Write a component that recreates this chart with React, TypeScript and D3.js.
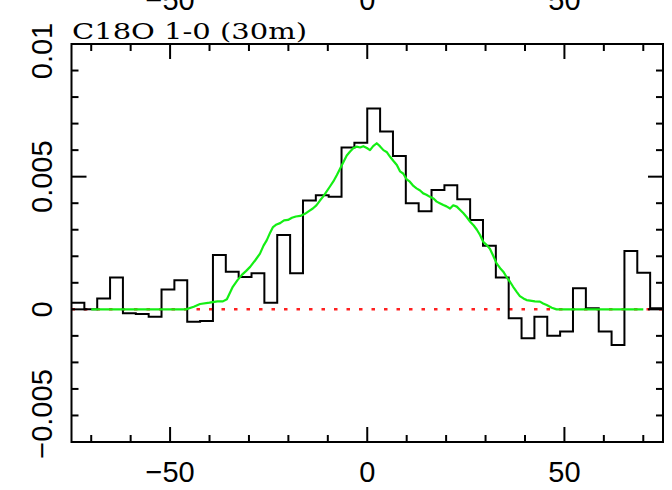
import React, { useEffect, useRef } from 'react';
import * as d3 from 'd3';

// channel centres (km/s) of the observed spectrum
const channelVel = [
  -73.37, -70.11, -66.85, -63.59, -60.33, -57.07, -53.80, -50.54, -47.28, -44.02,
  -40.76, -37.50, -34.24, -30.98, -27.72, -24.46, -21.20, -17.93, -14.67, -11.41,
  -8.15, -4.89, -1.63, 1.63, 4.89, 8.15, 11.41, 14.67, 17.93, 21.20,
  24.46, 27.72, 30.98, 34.24, 37.50, 40.76, 44.02, 47.28, 50.54, 53.80,
  57.07, 60.33, 63.59, 66.85, 70.11, 73.37,
];
const channelWidth = 3.26;

// observed intensity per channel
const observed = [
  0.00025, 0.0, 0.00041, 0.0012, -0.00015, -0.00018, -0.00028, 0.00075, 0.0011, -0.00047,
  -0.00044, 0.00205, 0.00142, 0.00122, 0.00136, 0.00025, 0.0028, 0.00136, 0.0041, 0.0043,
  0.00424, 0.0061, 0.00628, 0.00757, 0.0067, 0.00578, 0.004, 0.0037, 0.0045, 0.00468,
  0.00415, 0.00337, 0.0024, 0.0012, -0.00034, -0.00109, -0.00028, -0.001, -0.00084, 0.00079,
  0.00004, -0.00084, -0.00134, 0.0022, 0.00138, 0.00004,
];

// model spectrum (green)
const modelVel = [
  -70, -46, -44, -42.4, -40, -38, -36.6, -35.6, -34.1, -32.9, -31.8, -30.7, -29.7, -28.4,
  -27.2, -26.3, -25.5, -24.6, -23.9, -23.0, -22.1, -21.1, -20.1, -19.1, -18.1, -17.0,
  -15.8, -14.8, -13.8, -12.9, -12.0, -11.2, -10.5, -9.5, -8.6, -7.7, -6.9, -6.0, -5.2,
  -4.4, -3.5, -2.7, -1.8, -1.0, -0.1, 0.7, 1.5, 2.4, 3.2, 4.1, 5.0, 5.8, 6.6, 7.5, 8.3,
  9.1, 10.0, 10.8, 11.7, 12.5, 13.4, 14.2, 15.0, 15.9, 16.8, 17.6, 18.4, 19.3, 20.1,
  21.0, 21.8, 22.7, 23.5, 24.4, 25.2, 26.1, 27.0, 27.8, 28.6, 29.4, 30.3, 31.1, 32.0,
  32.8, 33.7, 34.5, 35.4, 36.2, 37.0, 37.9, 38.7, 39.6, 40.4, 41.3, 42.5, 43.8, 44.6,
  45.5, 46.8, 48.0, 70,
];
const modelVal = [
  0, 0, 0.0001, 0.0002, 0.00025, 0.0003, 0.0003, 0.00038, 0.00085, 0.0011, 0.0013, 0.00145, 0.0016, 0.00185,
  0.0021, 0.0024, 0.0026, 0.0029, 0.0031, 0.0032, 0.00325, 0.00335, 0.00337, 0.00345, 0.0035, 0.00352,
  0.0036, 0.0037, 0.0038, 0.00392, 0.0041, 0.00425, 0.0044, 0.00462, 0.00482, 0.00506, 0.0053, 0.00556, 0.0058,
  0.00594, 0.00608, 0.00613, 0.0061, 0.00615, 0.00608, 0.006, 0.00615, 0.00626, 0.00615, 0.006, 0.00592, 0.00575, 0.0056, 0.00544, 0.0052,
  0.00512, 0.0049, 0.00481, 0.00465, 0.00456, 0.00448, 0.00437, 0.00432, 0.00424, 0.00418, 0.00406, 0.004, 0.00393, 0.00388,
  0.0038, 0.00392, 0.00387, 0.00375, 0.00362, 0.00348, 0.0033, 0.00316, 0.003, 0.0028, 0.00255, 0.00242, 0.00228, 0.002,
  0.00173, 0.00155, 0.00142, 0.0012, 0.00104, 0.00085, 0.00066, 0.0005, 0.00041, 0.00035, 0.00033, 0.0003, 0.00029, 0.00022,
  0.00016, 0.00006, 0, 0,
];

const xMajor = [-50, 0, 50];
const xMinor = [-70, -60, -40, -30, -20, -10, 10, 20, 30, 40, 60, 70];
const yMajor = [-0.005, 0, 0.005, 0.01];
const yMinor = [-0.004, -0.003, -0.002, -0.001, 0.001, 0.002, 0.003, 0.004, 0.006, 0.007, 0.008, 0.009];
const yLabels = ['\u22120.005', '0', '0.005', '0.01'];
const title = 'C18O 1-0 (30m)';

const fmtX = (d: number) => (d < 0 ? '\u2212' + Math.abs(d) : String(d));

const App = () => {
  const svgRef = useRef<SVGSVGElement>(null);

  useEffect(() => {
    const width = 672;
    const height = 490;
    const left = 71.5, right = 663, top = 44, bottom = 442;

    const svg = d3.select(svgRef.current);
    svg.selectAll('*').remove();
    svg.attr('width', width).attr('height', height);

    const x = d3.scaleLinear().domain([-75, 75]).range([left, right]);
    const y = d3.scaleLinear().domain([-0.005, 0.01]).range([bottom, top]);

    const plot = svg.append('g');

    // zero line
    plot.append('line')
      .attr('x1', x(-75)).attr('x2', x(75))
      .attr('y1', y(0)).attr('y2', y(0))
      .attr('stroke', '#ff2020').attr('stroke-width', 2.5)
      .attr('stroke-dasharray', '3.5 9');

    // histogram: step points at channel edges
    const steps: [number, number][] = channelVel.map((v, i) => [v - channelWidth / 2, observed[i]]);
    steps.push([channelVel[channelVel.length - 1] + channelWidth / 2, observed[observed.length - 1]]);
    const histLine = d3.line<[number, number]>()
      .x(d => x(d[0]))
      .y(d => y(d[1]))
      .curve(d3.curveStepAfter);
    plot.append('path')
      .attr('d', histLine(steps))
      .attr('fill', 'none')
      .attr('stroke', '#000')
      .attr('stroke-width', 2);

    // model
    const modelLine = d3.line<number>()
      .x((d, i) => x(modelVel[i]))
      .y(d => y(d));
    plot.append('path')
      .attr('d', modelLine(modelVal))
      .attr('fill', 'none')
      .attr('stroke', '#14ee14')
      .attr('stroke-width', 2.2)
      .attr('stroke-linejoin', 'round');

    // frame
    svg.append('rect')
      .attr('x', left).attr('y', top)
      .attr('width', right - left).attr('height', bottom - top)
      .attr('fill', 'none').attr('stroke', '#000').attr('stroke-width', 2);

    const ticks = svg.append('g').attr('stroke', '#000').attr('stroke-width', 2);
    const tick = (x1: number, y1: number, x2: number, y2: number) =>
      ticks.append('line').attr('x1', x1).attr('y1', y1).attr('x2', x2).attr('y2', y2);

    xMajor.forEach(v => { tick(x(v), bottom, x(v), bottom - 15); tick(x(v), top, x(v), top + 15); });
    xMinor.forEach(v => { tick(x(v), bottom, x(v), bottom - 7); tick(x(v), top, x(v), top + 7); });
    yMajor.forEach(v => { tick(left, y(v), left + 15, y(v)); tick(right, y(v), right - 15, y(v)); });
    yMinor.forEach(v => { tick(left, y(v), left + 7, y(v)); tick(right, y(v), right - 7, y(v)); });

    const font = '"Liberation Sans", Arial, Helvetica, sans-serif';

    // bottom tick labels
    svg.append('g').selectAll('text')
      .data(xMajor).enter().append('text')
      .attr('x', d => x(d)).attr('y', 482)
      .attr('text-anchor', 'middle')
      .attr('font-family', font).attr('font-size', 29)
      .text(fmtX);

    // labels of the panel above (cut off)
    svg.append('g').selectAll('text')
      .data(xMajor).enter().append('text')
      .attr('x', d => x(d)).attr('y', 10)
      .attr('text-anchor', 'middle')
      .attr('font-family', font).attr('font-size', 29)
      .text(fmtX);

    // y tick labels, rotated; the end labels sit a little inside the frame
    const labelShift = [-28, 0, 0, 7];
    svg.append('g').selectAll('text')
      .data(yMajor).enter().append('text')
      .attr('transform', (d, i) => `translate(52,${y(d) + labelShift[i]}) rotate(-90)`)
      .attr('text-anchor', 'middle')
      .attr('font-family', font).attr('font-size', 29)
      .text((d, i) => yLabels[i]);

    // title
    svg.append('text')
      .attr('x', 72).attr('y', 39)
      .attr('font-family', '"DejaVu Serif", "Liberation Serif", serif')
      .attr('font-size', 22)
      .attr('textLength', 235)
      .attr('lengthAdjust', 'spacingAndGlyphs')
      .text(title);
  }, []);

  return (
    <div style={{ position: 'absolute', left: 0, top: 0 }}>
      <svg ref={svgRef}></svg>
    </div>
  );
};

export default App;
